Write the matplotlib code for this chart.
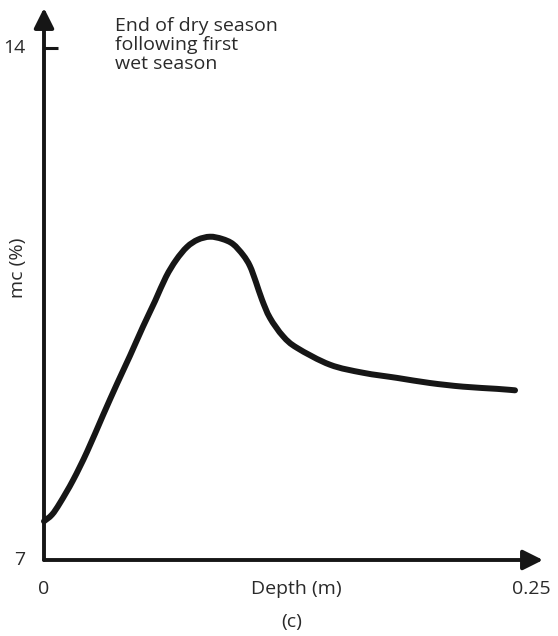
import matplotlib
matplotlib.use("Agg")
import matplotlib.pyplot as plt
from matplotlib.path import Path
from matplotlib.patches import PathPatch

plt.rcParams['font.family'] = ['Open Sans', 'DejaVu Sans']

# Moisture content profile with depth
depth = [0.0, 0.0041, 0.0082, 0.0149, 0.0221, 0.0303, 0.0375, 0.0441, 0.0508,
         0.0570, 0.0626, 0.0678, 0.0734, 0.0790, 0.0852, 0.0914, 0.0970,
         0.1022, 0.1057, 0.1088, 0.1119, 0.1160, 0.1227, 0.1299, 0.1468,
         0.1638, 0.1812, 0.1981, 0.2151, 0.2325, 0.2418]
mc = [7.53, 7.62, 7.78, 8.09, 8.48, 8.98, 9.41, 9.79, 10.19,
      10.54, 10.87, 11.10, 11.28, 11.38, 11.42, 11.39, 11.32,
      11.17, 11.02, 10.80, 10.56, 10.31, 10.06, 9.90, 9.67,
      9.56, 9.49, 9.42, 9.37, 9.34, 9.32]

y_ticks = [7, 14]
x_ticks = [0, 0.25]
x_tick_labels = ["0", "0.25"]
title_text = "End of dry season\nfollowing first\nwet season"


def smooth_path(xs, ys):
    """Cubic Bezier path passing through every point (Catmull-Rom tangents)."""
    pts = list(zip(xs, ys))
    verts = [pts[0]]
    codes = [Path.MOVETO]
    n = len(pts)
    for i in range(n - 1):
        p0 = pts[i - 1] if i > 0 else pts[i]
        p1 = pts[i]
        p2 = pts[i + 1]
        p3 = pts[i + 2] if i + 2 < n else pts[i + 1]
        c1 = (p1[0] + (p2[0] - p0[0]) / 6, p1[1] + (p2[1] - p0[1]) / 6)
        c2 = (p2[0] - (p3[0] - p1[0]) / 6, p2[1] - (p3[1] - p1[1]) / 6)
        verts += [c1, c2, p2]
        codes += [Path.CURVE4] * 3
    return Path(verts, codes)


W, H = 558, 636
fig = plt.figure(figsize=(W / 100, H / 100), dpi=100)
left, right, bottom, top = 44, 543, 560, 8
ax = fig.add_axes([left / W, 1 - bottom / H, (right - left) / W, (bottom - top) / H])

xmax = 0.25 * (right - left) / 487
ymax = 7 + (bottom - top) / 73.14
ax.set_xlim(0, xmax)
ax.set_ylim(7, ymax)
ax.patch.set_alpha(0)
for s in ax.spines.values():
    s.set_visible(False)
ax.set_xticks([])
ax.set_yticks([])

ink = "#161616"
txt = "#2a2a2a"
arrow = dict(arrowstyle="-|>,head_length=1.2,head_width=0.6", color=ink,
             lw=2.8, shrinkA=0, shrinkB=0)
ax.annotate("", xy=(xmax, 7), xytext=(0, 7), arrowprops=arrow, annotation_clip=False)
ax.annotate("", xy=(0, ymax), xytext=(0, 7), arrowprops=arrow, annotation_clip=False)

# short tick at 14
ax.plot([0, 0.007], [14, 14], color=ink, lw=2.2, solid_capstyle="butt", clip_on=False)

curve = PathPatch(smooth_path(depth, mc), fill=False, edgecolor=ink, lw=4.3,
                  capstyle="round", joinstyle="round", transform=ax.transData,
                  clip_on=False)
ax.add_patch(curve)

fs = 14
for v in y_ticks:
    ax.text(-0.0095, v, str(v), ha="right", va="center", fontsize=fs, color=txt)
for v, lab in zip(x_ticks, x_tick_labels):
    ax.text(v, 6.6, lab, ha="center", va="center", fontsize=fs, color=txt)

ax.text(0.1295, 6.6, "Depth (m)", ha="center", va="center", fontsize=fs, color=txt)
ax.text(0.1274, 6.15, "(c)", ha="center", va="center", fontsize=fs, color=txt)
ax.text(-0.0133, 10.99, "mc (%)", ha="center", va="center", rotation=90,
        fontsize=fs, color=txt)
ax.text(0.0365, 14.43, title_text, ha="left", va="top", fontsize=fs,
        color=txt, linespacing=1.1)

fig.savefig("out.png", dpi=100)
